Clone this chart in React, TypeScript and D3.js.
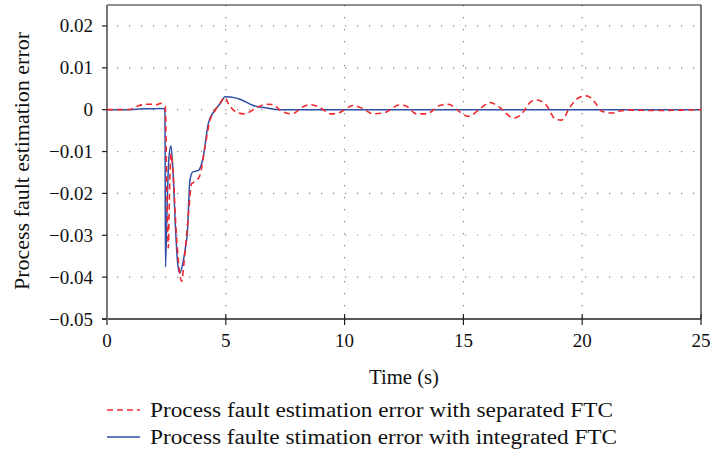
import React from "react";
import * as d3 from "d3";

const sepTime = [0, 0.7, 1.0, 1.3, 1.6, 1.9, 2.1, 2.25, 2.38, 2.45, 2.52, 2.58, 2.63, 2.7, 2.78, 2.9, 3.02, 3.14, 3.25, 3.35, 3.43, 3.56, 3.77, 3.91, 4.12, 4.33, 4.55, 4.75, 4.97, 5.1, 5.3, 5.55, 5.74, 5.95, 6.3, 6.72, 7.0, 7.3, 7.77, 8.26, 8.55, 8.89, 9.45, 9.74, 10.37, 10.79, 11.2, 11.7, 12.3, 12.54, 13.03, 13.45, 14.0, 14.37, 14.86, 15.2, 15.35, 15.7, 16.12, 16.54, 17.1, 17.38, 17.87, 18.08, 18.5, 18.86, 19.14, 19.48, 19.84, 20.19, 20.54, 20.82, 21.3, 21.6, 22, 23, 25];
const sepError = [0, 0, 0.0001, 0.0009, 0.0013, 0.0013, 0.0012, 0.0015, 0.001, 0.0008, -0.02, -0.033, -0.02, -0.0105, -0.015, -0.028, -0.037, -0.041, -0.036, -0.03, -0.0248, -0.0177, -0.0169, -0.0157, -0.009, -0.0026, -0.0002, 0.0015, 0.0029, 0.0015, 0, -0.0008, -0.001, -0.0007, 0.0005, 0.0013, 0.0012, -0.0002, -0.001, 0.0007, 0.0012, 0.0007, -0.001, -0.0008, 0.001, 0.0002, -0.001, -0.0007, 0.0011, 0.001, -0.001, -0.001, 0.001, 0.0013, -0.0006, -0.0016, -0.0013, 0.0002, 0.0017, 0.0005, -0.002, -0.0014, 0.002, 0.0023, 0.001, -0.0022, -0.0025, 0.0006, 0.0028, 0.0033, 0.0017, -0.0004, -0.0008, -0.0003, -0.0001, -0.0002, 0];

const intTime = [0, 1.0, 1.5, 2.0, 2.2, 2.4, 2.44, 2.46, 2.52, 2.6, 2.69, 2.78, 2.88, 2.98, 3.07, 3.18, 3.3, 3.38, 3.49, 3.6, 3.85, 4.05, 4.26, 4.48, 4.76, 4.97, 5.18, 5.6, 6.16, 6.72, 7.3, 25];
const intError = [0, 0, 0.0002, 0.0002, 0.0003, 0.0002, 0, -0.0376, -0.025, -0.012, -0.0086, -0.015, -0.028, -0.037, -0.039, -0.037, -0.033, -0.0296, -0.0169, -0.0149, -0.0145, -0.0113, -0.0034, -0.0006, 0.0014, 0.0031, 0.003, 0.0025, 0.001, 0.0004, 0, 0];

const xTicks = [0, 5, 10, 15, 20, 25];
const yTicks = [0.02, 0.01, 0, -0.01, -0.02, -0.03, -0.04, -0.05];
const yTickLabels = ["0.02", "0.01", "0", "\u22120.01", "\u22120.02", "\u22120.03", "\u22120.04", "\u22120.05"];

const legendLabels = [
  "Process fault estimation error with separated FTC",
  "Process faulte stimation error with integrated FTC",
];

export default function App() {
  const W = 711, H = 455;
  const left = 107, right = 701, top = 5, bottom = 319;
  const x = d3.scaleLinear().domain([0, 25]).range([left, right]);
  const y = d3.scaleLinear().domain([-0.05, 0.025]).range([bottom, top]);
  const font = "'Liberation Serif', 'Times New Roman', serif";

  const line = d3.line<[number, number]>()
    .x((d) => x(d[0]))
    .y((d) => y(d[1]))
    .curve(d3.curveMonotoneX);

  const sepPts = sepTime.map((t, i) => [t, sepError[i]] as [number, number]);
  const intPts = intTime.map((t, i) => [t, intError[i]] as [number, number]);

  return (
    <svg width={W} height={H} style={{ position: "absolute", left: 0, top: 0, background: "#fff" }}>
      {/* grid */}
      {xTicks.filter((t) => t > 0 && t < 25).map((t) => (
        <line key={"gx" + t} x1={x(t)} x2={x(t)} y1={top} y2={bottom}
          stroke="#888" strokeWidth={1.2} strokeDasharray="1.2 10.8" />
      ))}
      {yTicks.filter((t) => t > -0.05).map((t) => (
        <line key={"gy" + t} x1={left} x2={right} y1={y(t)} y2={y(t)}
          stroke="#888" strokeWidth={1.2} strokeDasharray="1.2 10.8" strokeDashoffset={-10} />
      ))}

      {/* frame */}
      <line x1={left} x2={right} y1={top} y2={top} stroke="#222" strokeWidth={1} />
      <line x1={right} x2={right} y1={top} y2={bottom} stroke="#222" strokeWidth={1.2} />
      <line x1={left} x2={left} y1={top} y2={bottom} stroke="#777" strokeWidth={2} />
      <line x1={left - 5} x2={right} y1={bottom} y2={bottom} stroke="#222" strokeWidth={1.5} />

      {/* x ticks */}
      {xTicks.map((t) => (
        <g key={"xt" + t}>
          <line x1={x(t)} x2={x(t)} y1={bottom - 5} y2={bottom + 6} stroke={t === 0 ? "#777" : "#222"} strokeWidth={t === 0 ? 2 : 1.2} />
          <text x={x(t)} y={347} textAnchor="middle" fontFamily={font} fontSize={19} fill="#111">{t}</text>
        </g>
      ))}
      {/* y ticks */}
      {yTicks.map((t, i) => (
        <g key={"yt" + t}>
          <line x1={left - 5} x2={left} y1={y(t)} y2={y(t)} stroke="#222" strokeWidth={1.2} />
          <text x={93} y={y(t) + 6.5} textAnchor="end" fontFamily={font} fontSize={19} fill="#111">{yTickLabels[i]}</text>
        </g>
      ))}

      {/* data */}
      <path d={line(intPts) || ""} fill="none" stroke="#2f4ea6" strokeWidth={1.5} />
      <path d={line(sepPts) || ""} fill="none" stroke="#ee2a2e" strokeWidth={1.6} strokeDasharray="6 4" />

      {/* axis titles */}
      <text x={404} y={384} textAnchor="middle" fontFamily={font} fontSize={20} textLength={70} lengthAdjust="spacingAndGlyphs" fill="#111">Time (s)</text>
      <text transform={`translate(29, 161) rotate(-90)`} textAnchor="middle" fontFamily={font} fontSize={20} textLength={258} lengthAdjust="spacingAndGlyphs" fill="#111">Process fault estimation error</text>

      {/* legend */}
      <line x1={107} x2={140} y1={410} y2={410} stroke="#ee2a2e" strokeWidth={1.6} strokeDasharray="6 4" />
      <text x={150} y={417} fontFamily={font} fontSize={20} textLength={463} lengthAdjust="spacingAndGlyphs" fill="#111">{legendLabels[0]}</text>
      <line x1={107} x2={140} y1={437} y2={437} stroke="#2f4ea6" strokeWidth={1.5} />
      <text x={150} y={444} fontFamily={font} fontSize={20} textLength={467} lengthAdjust="spacingAndGlyphs" fill="#111">{legendLabels[1]}</text>
    </svg>
  );
}
